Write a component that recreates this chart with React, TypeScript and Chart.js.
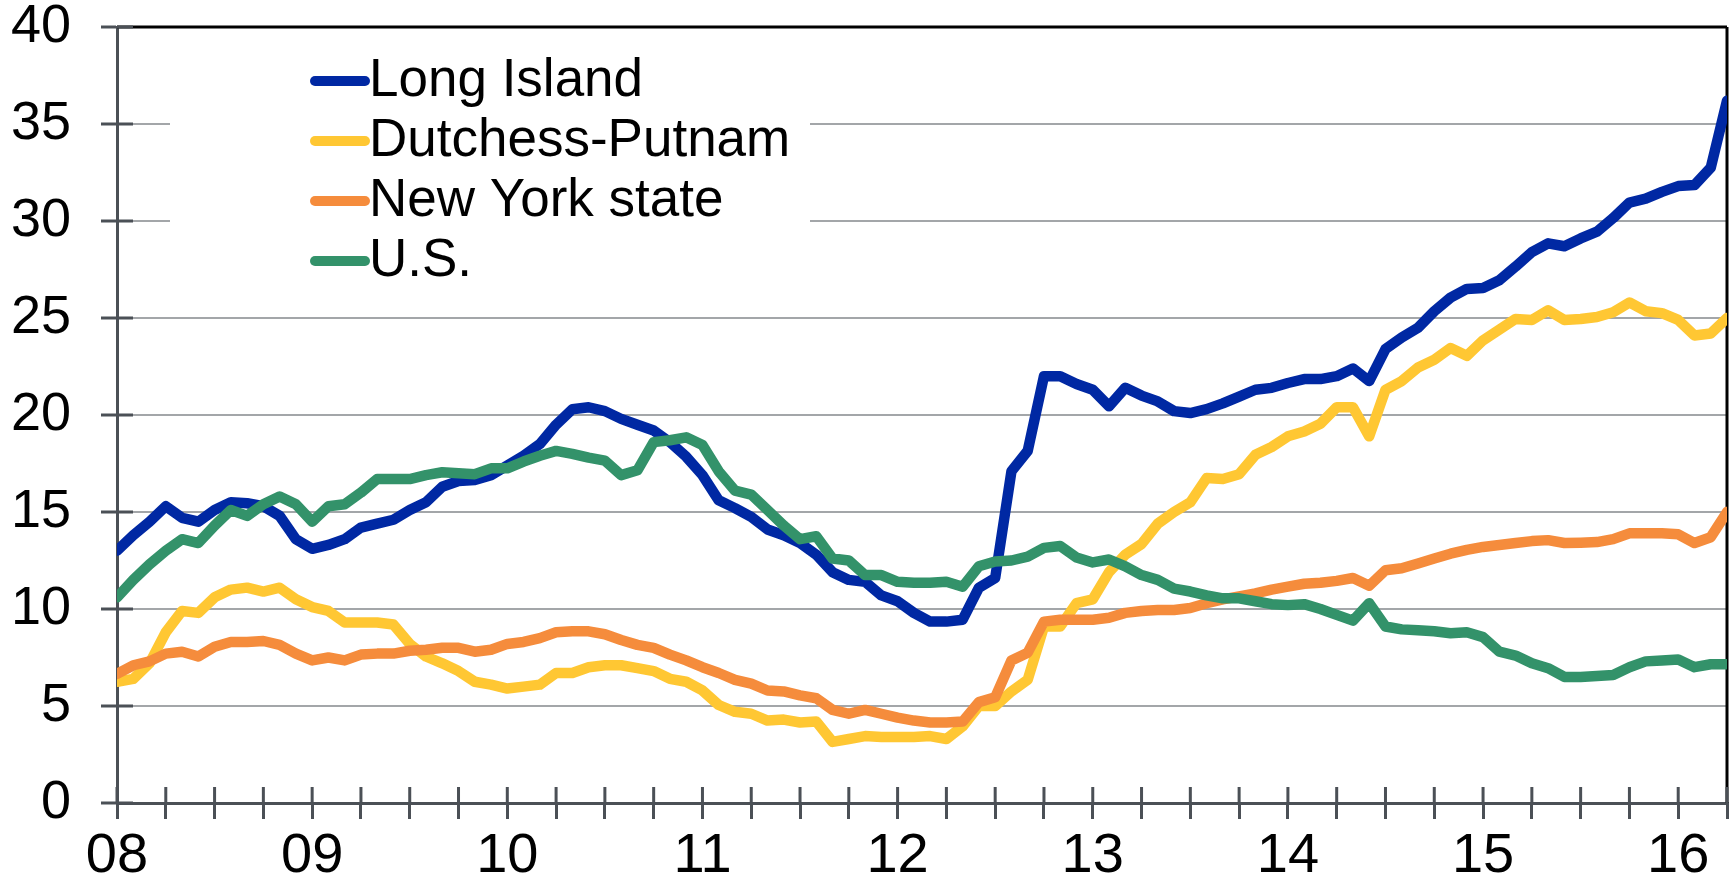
import React, { useEffect, useRef } from 'react';
import { Chart, registerables } from 'chart.js';

Chart.register(...registerables);

// Monthly observations, Jan 2008 .. Apr 2016 (index 0 = Jan 2008)
const yearLabels = ['08', '09', '10', '11', '12', '13', '14', '15', '16'];

const seriesNames = ['Long Island', 'Dutchess-Putnam', 'New York state', 'U.S.'];

const longIsland = [
  13.0, 13.8, 14.5, 15.3, 14.7, 14.5, 15.1, 15.5, 15.45, 15.3, 14.8, 13.6,
  13.1, 13.3, 13.6, 14.2, 14.4, 14.6, 15.1, 15.5, 16.3, 16.6, 16.65, 16.9,
  17.4, 17.9, 18.5, 19.5, 20.3, 20.4, 20.2, 19.8, 19.5, 19.2, 18.6, 17.85,
  16.9, 15.6, 15.2, 14.75, 14.1, 13.8, 13.4, 12.8, 11.9, 11.5, 11.4, 10.7,
  10.4, 9.8, 9.35, 9.35, 9.45, 11.1, 11.6, 17.1, 18.15, 22.0, 22.0, 21.6,
  21.3, 20.45, 21.4, 21.0, 20.7, 20.2, 20.1, 20.3, 20.6, 20.95, 21.3, 21.4,
  21.65, 21.85, 21.85, 22.0, 22.4, 21.75, 23.4, 24.0, 24.5, 25.35, 26.05, 26.5,
  26.55, 26.95, 27.65, 28.4, 28.85, 28.7, 29.1, 29.45, 30.15, 30.95, 31.15, 31.5,
  31.8, 31.85, 32.75, 36.2,
];

const dutchessPutnam = [
  6.25, 6.4, 7.2, 8.8, 9.9, 9.8, 10.6, 11.0, 11.1, 10.9, 11.1, 10.5,
  10.1, 9.9, 9.3, 9.3, 9.3, 9.2, 8.2, 7.55, 7.2, 6.8, 6.25, 6.1,
  5.9, 6.0, 6.1, 6.7, 6.7, 7.0, 7.1, 7.1, 6.95, 6.8, 6.4, 6.25,
  5.8, 5.05, 4.7, 4.6, 4.25, 4.3, 4.15, 4.2, 3.15, 3.3, 3.45, 3.4,
  3.4, 3.4, 3.45, 3.3, 3.95, 5.0, 5.0, 5.75, 6.35, 9.1, 9.1, 10.3,
  10.5, 11.9, 12.8, 13.35, 14.4, 15.0, 15.5, 16.75, 16.7, 16.95, 17.95, 18.35,
  18.9, 19.15, 19.55, 20.4, 20.4, 18.9, 21.3, 21.75, 22.45, 22.85, 23.45, 23.05,
  23.85, 24.4, 24.95, 24.9, 25.4, 24.9, 24.95, 25.05, 25.3, 25.8, 25.35, 25.25,
  24.9, 24.1, 24.2, 25.0,
];

const newYorkState = [
  6.65, 7.1, 7.3, 7.7, 7.8, 7.55, 8.05, 8.3, 8.3, 8.35, 8.15, 7.7,
  7.35, 7.5, 7.35, 7.65, 7.7, 7.7, 7.85, 7.9, 8.0, 8.0, 7.8, 7.9,
  8.2, 8.3, 8.5, 8.8, 8.85, 8.85, 8.7, 8.4, 8.15, 8.0, 7.65, 7.35,
  7.0, 6.7, 6.35, 6.15, 5.8, 5.75, 5.55, 5.4, 4.8, 4.6, 4.8, 4.6,
  4.4, 4.25, 4.15, 4.15, 4.2, 5.2, 5.45, 7.35, 7.75, 9.35, 9.45, 9.45,
  9.45, 9.55, 9.8, 9.9, 9.95, 9.95, 10.05, 10.3, 10.5, 10.65, 10.8, 11.0,
  11.15, 11.3, 11.35, 11.45, 11.6, 11.2, 12.0, 12.1, 12.35, 12.6, 12.85, 13.05,
  13.2, 13.3, 13.4, 13.5, 13.55, 13.4, 13.42, 13.45, 13.6, 13.9, 13.9, 13.9,
  13.85, 13.4, 13.7, 15.0,
];

const unitedStates = [
  10.6, 11.5, 12.3, 13.0, 13.6, 13.4, 14.3, 15.1, 14.8, 15.4, 15.8, 15.4,
  14.5, 15.3, 15.4, 16.0, 16.7, 16.7, 16.7, 16.9, 17.05, 17.0, 16.95, 17.25,
  17.25, 17.6, 17.9, 18.15, 18.0, 17.8, 17.65, 16.9, 17.15, 18.6, 18.7, 18.85,
  18.45, 17.1, 16.1, 15.9, 15.1, 14.3, 13.6, 13.75, 12.6, 12.5, 11.75, 11.75,
  11.4, 11.35, 11.35, 11.4, 11.15, 12.2, 12.45, 12.5, 12.7, 13.15, 13.25, 12.65,
  12.4, 12.55, 12.2, 11.75, 11.5, 11.05, 10.9, 10.7, 10.55, 10.55, 10.4, 10.25,
  10.2, 10.25, 10.0, 9.7, 9.4, 10.3, 9.1, 8.95, 8.9, 8.85, 8.75, 8.8,
  8.55, 7.8, 7.6, 7.2, 6.95, 6.5, 6.5, 6.55, 6.6, 7.0, 7.3, 7.35,
  7.4, 7.0, 7.15, 7.15,
];

const seriesValues = [longIsland, dutchessPutnam, newYorkState, unitedStates];
const seriesColors = ['#0028A3', '#FFC733', '#F58C3C', '#33926A'];

const FONT = '"Liberation Sans", Arial, Helvetica, sans-serif';
const AXIS_COLOR = '#4b5056';
const GRID_COLOR = '#a3a6a9';

const framePlugin = {
  id: 'frame',
  beforeDatasetsDraw(chart: any) {
    const { ctx, chartArea, scales } = chart;
    const { left, right, top, bottom } = chartArea;
    const xs = scales.x;
    const ys = scales.y;
    ctx.save();
    // top and right frame
    ctx.strokeStyle = '#000';
    ctx.lineWidth = 3;
    ctx.beginPath();
    ctx.moveTo(left, top);
    ctx.lineTo(right, top);
    ctx.moveTo(right, top);
    ctx.lineTo(right, bottom);
    ctx.stroke();
    // inner halves of the crossing tick marks
    ctx.strokeStyle = AXIS_COLOR;
    ctx.lineWidth = 3;
    ctx.beginPath();
    xs.ticks.forEach((t: any) => {
      const px = xs.getPixelForValue(t.value);
      ctx.moveTo(px, bottom);
      ctx.lineTo(px, bottom - 16);
    });
    ys.ticks.forEach((t: any) => {
      const py = ys.getPixelForValue(t.value);
      ctx.moveTo(left, py);
      ctx.lineTo(left + 16, py);
    });
    ctx.stroke();
    // legend box
    ctx.fillStyle = '#ffffff';
    ctx.fillRect(170, 40, 640, 252);
    ctx.font = `53px ${FONT}`;
    ctx.textBaseline = 'middle';
    ctx.textAlign = 'left';
    chart.data.datasets.forEach((ds: any, k: number) => {
      const yy = 81 + 60 * k;
      ctx.strokeStyle = ds.borderColor;
      ctx.lineWidth = 10;
      ctx.lineCap = 'round';
      ctx.beginPath();
      ctx.moveTo(315, yy);
      ctx.lineTo(365, yy);
      ctx.stroke();
      ctx.fillStyle = '#000';
      ctx.fillText(ds.label, 369, yy);
    });
    ctx.restore();
  },
};

export default function App() {
  const ref = useRef<HTMLCanvasElement | null>(null);

  useEffect(() => {
    document.body.style.margin = '0';
    const canvas = ref.current;
    if (!canvas) return;
    const datasets = seriesValues.map((vals, k) => ({
      label: seriesNames[k],
      data: vals.map((v, i) => ({ x: i, y: v })),
      borderColor: seriesColors[k],
      backgroundColor: seriesColors[k],
      borderWidth: 10.5,
      pointRadius: 0,
      tension: 0,
      borderJoinStyle: 'round' as const,
      borderCapStyle: 'round' as const,
      order: 4 - k,
    }));
    const chart = new Chart(canvas, {
      type: 'line',
      data: { datasets },
      options: {
        responsive: false,
        animation: false,
        devicePixelRatio: 1,
        events: [],
        layout: { padding: { left: 0, right: 5, top: 27, bottom: 0 } },
        plugins: {
          legend: { display: false },
          tooltip: { enabled: false },
        },
        scales: {
          x: {
            type: 'linear',
            min: 0,
            max: 99,
            afterFit: (s: any) => {
              s.height = 88;
              s.paddingLeft = 0;
              s.paddingRight = 0;
            },
            ticks: {
              stepSize: 3,
              autoSkip: false,
              maxRotation: 0,
              minRotation: 0,
              color: '#000',
              padding: 4,
              font: { family: FONT, size: 56 },
              callback: (v: any) => (Number(v) % 12 === 0 ? yearLabels[Number(v) / 12] : ''),
            },
            grid: {
              drawOnChartArea: false,
              drawTicks: true,
              tickLength: 16,
              color: AXIS_COLOR,
              tickColor: AXIS_COLOR,
              lineWidth: 3,
              tickWidth: 3,
            },
            border: { display: true, color: AXIS_COLOR, width: 3 },
          },
          y: {
            min: 0,
            max: 40,
            afterFit: (s: any) => {
              s.width = 117;
              s.paddingTop = 0;
              s.paddingBottom = 0;
            },
            ticks: {
              stepSize: 5,
              color: '#000',
              padding: 30,
              font: { family: FONT, size: 54, lineHeight: 1 },
            },
            grid: {
              drawOnChartArea: true,
              drawTicks: true,
              tickLength: 16,
              color: (c: any) => (c.tick && (c.tick.value === 0 || c.tick.value === 40) ? 'rgba(0,0,0,0)' : GRID_COLOR),
              tickColor: AXIS_COLOR,
              lineWidth: 2,
              tickWidth: 3,
            },
            border: { display: true, color: AXIS_COLOR, width: 3 },
          },
        },
      },
      plugins: [framePlugin],
    });
    return () => chart.destroy();
  }, []);

  return (
    <div style={{ width: 1732, height: 891, background: '#fff' }}>
      <canvas ref={ref} width={1732} height={891} style={{ display: 'block' }} />
    </div>
  );
}
